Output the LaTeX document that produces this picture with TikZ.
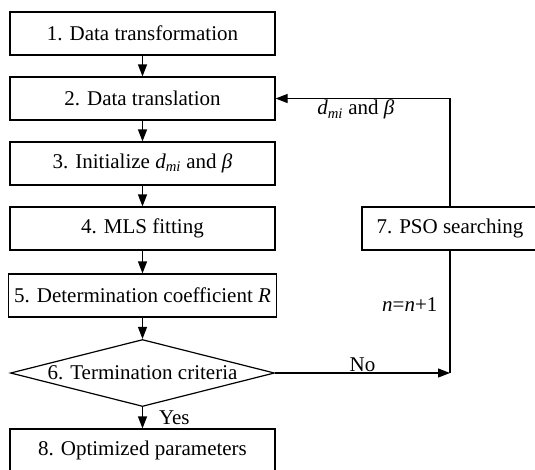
\documentclass[tikz,border=0pt]{standalone}
\usepackage{fontspec}
\setmainfont{Liberation Serif}
\usetikzlibrary{arrows.meta, calc, positioning, shapes.geometric}

\begin{document}
\begin{tikzpicture}[x=1pt, y=1pt, node distance={65pt}, font=\fontsize{21}{25}\selectfont,
		line width=1.2pt, >={Triangle[length=12pt,width=9pt]},
		main/.style = {draw, rectangle, minimum width=265pt, minimum height=43pt, inner xsep=6pt},
		test/.style = {draw, diamond, aspect=3.94, inner sep=0pt, minimum width=264pt, minimum height=67pt},
		lab/.style = {inner sep=1pt}]
		\useasboundingbox (0,0) rectangle (535,-469);
		\node[main] (1) at (142.5,-33.5) {1. Data transformation};
		\node[main] (2) [below of=1] {2. Data translation};
		\node[main] (3) [below of=2] {3. Initialize \textit{d}\textsubscript{\textit{mi}} and \textit{β}};
		\node[main] (4) [below of=3] {4. MLS fitting};
		\node[main] (5) [below of=4, node distance=67pt] {5. Determination coefficient \textit{R}};
		\node[test] (6) [below of=5, node distance=77.5pt] {6. Termination criteria};
		\node[main] (8) [below of=6, node distance=77.5pt] {8. Optimized parameters};
		\node[main, minimum width=176pt] (7) at (450,-228.5) {7. PSO searching};
		\coordinate (no) at (7 |- 6);
		\draw[->] (1) -- (2);
		\draw[->] (2) -- (3);
		\draw[->] (3) -- (4);
		\draw[->] (4) -- (5);
		\draw[->] (5) -- (6);
		\draw[->] (6) -- node[lab, right=15pt] {Yes} (8);
		\draw[->] (6) -- node[lab, above] {No} (no);
		\draw (7) -- node[lab, left=11pt, pos=0.44] {\textit{n}=\textit{n}+1} (no);
		\draw[->] (7) |- node[lab, below, pos=0.77] {\textit{d}\textsubscript{\textit{mi}} and \textit{β}} (2);
	\end{tikzpicture}
\end{document}
